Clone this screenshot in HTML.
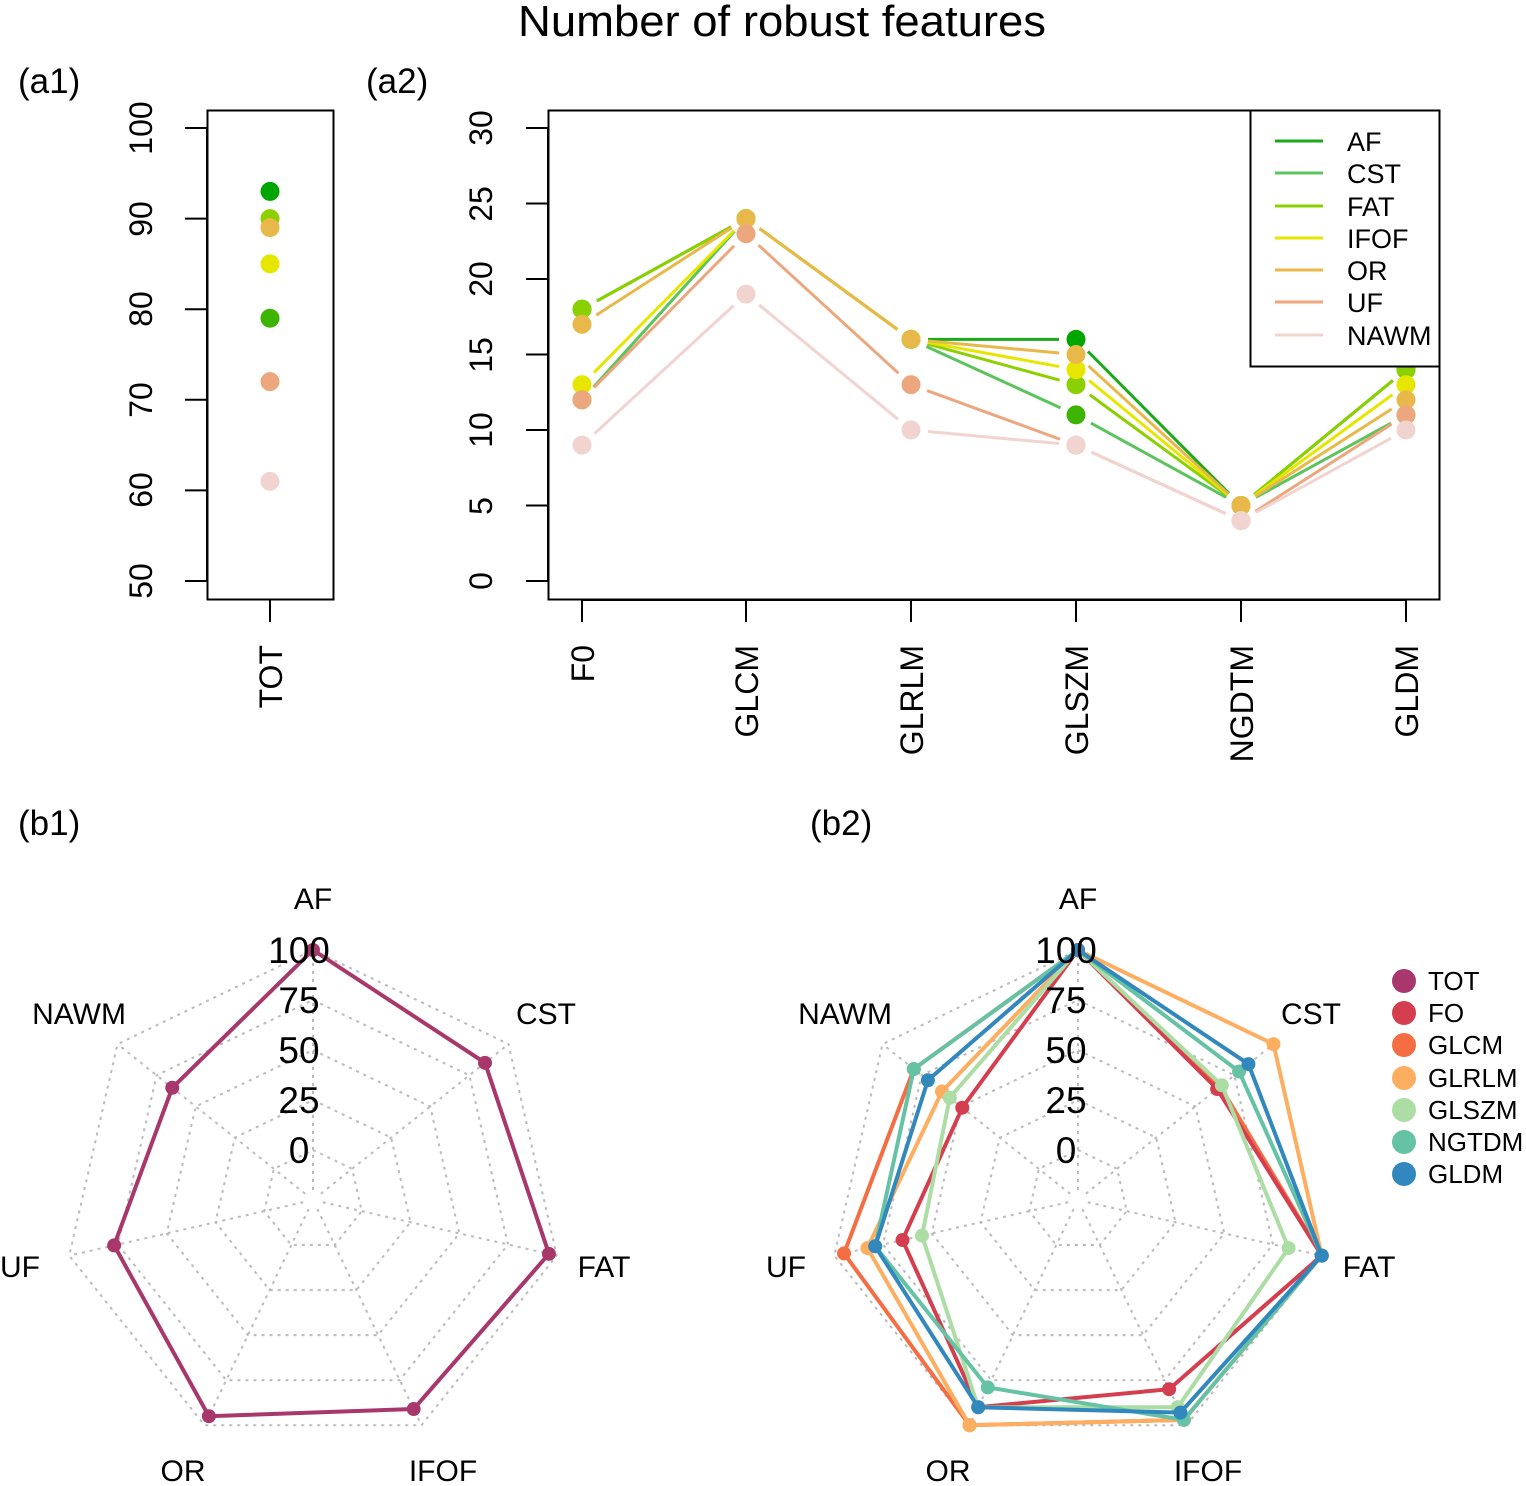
<!DOCTYPE html>
<html><head><meta charset="utf-8"><style>
html,body{margin:0;padding:0;background:#fff;}
svg{display:block;font-family:"Liberation Sans",sans-serif;}
</style></head><body>
<svg id="s" width="1526" height="1486" viewBox="0 0 1526 1486" xmlns="http://www.w3.org/2000/svg">
<rect width="1526" height="1486" fill="#fff"/>
<text x="782" y="36" font-size="44" text-anchor="middle" fill="#000" textLength="528" lengthAdjust="spacingAndGlyphs">Number of robust features</text>
<g font-size="35" fill="#000">
<text x="18" y="93">(a1)</text>
<text x="366" y="93">(a2)</text>
<text x="18" y="835">(b1)</text>
<text x="810" y="835">(b2)</text>
</g>
<!-- a1 -->
<rect x="207.5" y="110.5" width="126" height="489" fill="none" stroke="#000" stroke-width="2"/>
<g id="a1ticks" stroke="#000" stroke-width="2"></g>
<g font-size="32" fill="#000" text-anchor="middle">
<text transform="translate(152,128) rotate(-90)">100</text>
<text transform="translate(152,219) rotate(-90)">90</text>
<text transform="translate(152,309) rotate(-90)">80</text>
<text transform="translate(152,400) rotate(-90)">70</text>
<text transform="translate(152,490) rotate(-90)">60</text>
<text transform="translate(152,581) rotate(-90)">50</text>
<text transform="translate(492,128) rotate(-90)">30</text>
<text transform="translate(492,204) rotate(-90)">25</text>
<text transform="translate(492,279) rotate(-90)">20</text>
<text transform="translate(492,355) rotate(-90)">15</text>
<text transform="translate(492,430) rotate(-90)">10</text>
<text transform="translate(492,506) rotate(-90)">5</text>
<text transform="translate(492,581) rotate(-90)">0</text>
</g>
<g font-size="32" fill="#000" text-anchor="end">
<text transform="translate(282,645) rotate(-90)">TOT</text>
<text transform="translate(594,645) rotate(-90)">F0</text>
<text transform="translate(758,645) rotate(-90)">GLCM</text>
<text transform="translate(923,645) rotate(-90)">GLRLM</text>
<text transform="translate(1088,645) rotate(-90)">GLSZM</text>
<text transform="translate(1253,645) rotate(-90)">NGDTM</text>
<text transform="translate(1418,645) rotate(-90)">GLDM</text>
</g>
<g id="a1pts"></g>
<!-- a2 -->
<rect x="548.5" y="110.5" width="891" height="489" fill="none" stroke="#000" stroke-width="2"/>
<g id="a2" ></g>
<rect x="1250.5" y="110.5" width="189" height="256" fill="#fff" stroke="#000" stroke-width="2"/>
<g id="leg" font-size="27" fill="#000">
<text x="1347" y="151">AF</text>
<text x="1347" y="183">CST</text>
<text x="1347" y="216">FAT</text>
<text x="1347" y="248">IFOF</text>
<text x="1347" y="280">OR</text>
<text x="1347" y="312">UF</text>
<text x="1347" y="345">NAWM</text>
</g>
<!-- radar -->
<g id="r1"></g><g id="r2"></g>
<g font-size="30" fill="#000" text-anchor="middle">
<text x="313" y="909">AF</text><text x="546" y="1024">CST</text><text x="604" y="1277">FAT</text>
<text x="443" y="1481">IFOF</text><text x="183" y="1481">OR</text><text x="20" y="1277">UF</text><text x="79" y="1024">NAWM</text>
<text x="1078" y="909">AF</text><text x="1311" y="1024">CST</text><text x="1369" y="1277">FAT</text>
<text x="1208" y="1481">IFOF</text><text x="948" y="1481">OR</text><text x="786" y="1277">UF</text><text x="845" y="1024">NAWM</text>
</g>
<g font-size="37" fill="#000" text-anchor="middle" id="scl">
<text x="299" y="963">100</text><text x="299" y="1013">75</text><text x="299" y="1063">50</text><text x="299" y="1113">25</text><text x="299" y="1163">0</text>
<text x="1066" y="963">100</text><text x="1066" y="1013">75</text><text x="1066" y="1063">50</text><text x="1066" y="1113">25</text><text x="1066" y="1163">0</text>
</g>
<g font-size="26" fill="#000">
<text x="1428" y="990">TOT</text><text x="1428" y="1022">FO</text><text x="1428" y="1054">GLCM</text>
<text x="1428" y="1087">GLRLM</text><text x="1428" y="1119">GLSZM</text><text x="1428" y="1151">NGTDM</text><text x="1428" y="1183">GLDM</text>
</g>
<g id="leg2"></g>
</svg>
<script>
var NS="http://www.w3.org/2000/svg";
function el(p,t,a){var e=document.createElementNS(NS,t);for(var k in a)e.setAttribute(k,a[k]);document.getElementById(p).appendChild(e);return e;}
[100,90,80,70,60,50].forEach(function(v){var y=581-(v-50)*9.06;el('a1ticks','line',{x1:185,x2:207,y1:y,y2:y});});
el('a1ticks','line',{x1:207,x2:207,y1:128,y2:581});
el('a1ticks','line',{x1:270,x2:270,y1:600,y2:622});
[0,5,10,15,20,25,30].forEach(function(v){var y=581-v*15.1;el('a1ticks','line',{x1:526,x2:548,y1:y,y2:y});});
el('a1ticks','line',{x1:548,x2:548,y1:128,y2:581});
var xs=[582,746,911,1076,1241,1406];
xs.forEach(function(x){el('a1ticks','line',{x1:x,x2:x,y1:600,y2:622});});
el('a1ticks','line',{x1:582,x2:1406,y1:600,y2:600});
var cols={AF:"#00A600",CST:"#3DB500",FAT:"#8BD000",IFOF:"#E6E600",OR:"#E8B94A",UF:"#ECA77E",NAWM:"#F1D4CF"};
var lcols={AF:"#1AAA1A",CST:"#5CC45C",FAT:"#8BD000",IFOF:"#E6E600",OR:"#E8B94A",UF:"#ECA77E",NAWM:"#F1D4CF"};
var tot={NAWM:61,UF:72,CST:79,IFOF:85,OR:89,FAT:90,AF:93};
["AF","CST","FAT","IFOF","OR","UF","NAWM"].forEach(function(k){el('a1pts','circle',{cx:270,cy:581-(tot[k]-50)*9.06,r:9.5,fill:cols[k]});});
var d={NAWM:[9,19,10,9,4,10],UF:[12,23,13,9,4,11],OR:[17,24,16,15,5,12],IFOF:[13,24,16,14,5,13],CST:[12,24,16,11,5,11],FAT:[18,24,16,13,5,14],AF:[18,24,16,16,5,14]};
var order=["AF","CST","FAT","IFOF","OR","UF","NAWM"];
order.forEach(function(k){var v=d[k];
 for(var i=0;i<5;i++){var x1=xs[i],y1=581-v[i]*15.1,x2=xs[i+1],y2=581-v[i+1]*15.1;var dx=x2-x1,dy=y2-y1,L=Math.sqrt(dx*dx+dy*dy),g=17/L;
 el('a2','line',{x1:x1+dx*g,y1:y1+dy*g,x2:x2-dx*g,y2:y2-dy*g,stroke:lcols[k],"stroke-width":3});}
 v.forEach(function(val,i){el('a2','circle',{cx:xs[i],cy:581-val*15.1,r:9.5,fill:cols[k]});});
});
var ly=[141,173,206,238,270,302,335],lk=["AF","CST","FAT","IFOF","OR","UF","NAWM"];
lk.forEach(function(k,i){el('leg','line',{x1:1275,x2:1323,y1:ly[i],y2:ly[i],stroke:lcols[k],"stroke-width":3});});
function pt(cx,cy,k,v){var a=k*2*Math.PI/7,r=50+2*v;return [cx+r*Math.sin(a),cy-r*Math.cos(a)];}
function grid(g,cx){var cy=1200;
 for(var l=0;l<=4;l++){var p=[];for(var k=0;k<7;k++)p.push(pt(cx,cy,k,l*25).join(','));
 el(g,'polygon',{points:p.join(' '),fill:"none",stroke:"#bbb","stroke-width":2,"stroke-dasharray":"3,5"});}
 for(var k=0;k<7;k++){var a=pt(cx,cy,k,-20),b=pt(cx,cy,k,100);el(g,'line',{x1:a[0],y1:a[1],x2:b[0],y2:b[1],stroke:"#bbb","stroke-width":2,"stroke-dasharray":"3,5"});}
}
grid('r1',313);grid('r2',1078);
function series(g,cx,vals,c){var p=vals.map(function(v,k){return pt(cx,1200,k,v);});
 el(g,'polygon',{points:p.map(function(q){return q.join(',')}).join(' '),fill:"none",stroke:c,"stroke-width":4});
 p.forEach(function(q){el(g,'circle',{cx:q[0],cy:q[1],r:7,fill:c});});}
series('r1',313,[100,85,96,91,95,77,65],"#A8386C");
var s2=[["#F46D43",[100,66,100,97,100,95,80]],["#FDAE61",[100,100,100,97,100,83,62]],["#D53E4F",[100,64,100,80,90,65,49]],["#ABDDA4",[100,67,83,90,90,55,57]],["#66C2A5",[100,78,100,97,79,79,80]],["#3288BD",[100,84,100,93,90,79,71]]];
s2.forEach(function(s){series('r2',1078,s[1],s[0]);});
var l2=["#A8386C","#D53E4F","#F46D43","#FDAE61","#ABDDA4","#66C2A5","#3288BD"],l2y=[981,1013,1045,1078,1110,1142,1174];
l2.forEach(function(c,i){el('leg2','circle',{cx:1404,cy:l2y[i],r:12,fill:c});});
</script>
</body></html>
